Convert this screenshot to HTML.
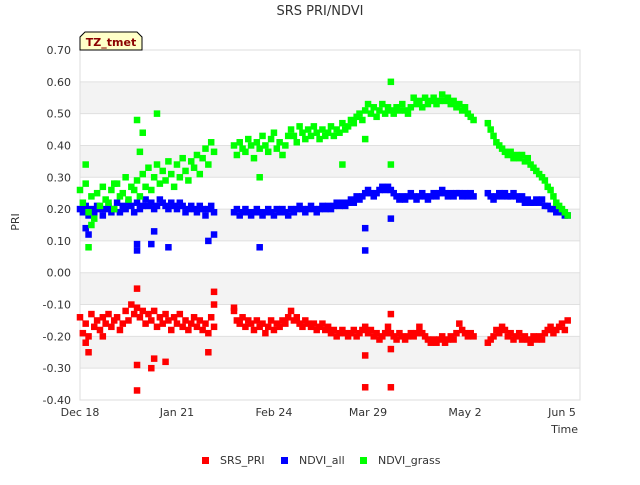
<!DOCTYPE html>
<html><head><meta charset="utf-8"><style>
body{margin:0;background:#fff;font-family:"Liberation Sans","DejaVu Sans",sans-serif}
svg text{font-family:"DejaVu Sans","Liberation Sans",sans-serif}
</style></head><body>
<svg id="chart" width="640" height="480" xmlns="http://www.w3.org/2000/svg">
<rect width="640" height="480" fill="#fff"/>
<g id="bands"></g>
<g id="grid"></g>
<rect x="80" y="50" width="500" height="350" fill="none" stroke="#ddd"/>
<g id="yticks"></g><g id="xticks"></g>
<g id="marks"></g>
<text x="320" y="15" text-anchor="middle" font-size="13" fill="#333">SRS PRI/NDVI</text>
<text x="19" y="222" text-anchor="middle" font-size="11" fill="#333" transform="rotate(-90 19 222)">PRI</text>
<text x="578" y="433" text-anchor="end" font-size="11" fill="#333">Time</text>
<g>
<path d="M80,50 L80,37 L85,32 L137,32 L142,37 L142,50 Z" fill="#ffffc8" stroke="#000"/>
<text x="111" y="46" text-anchor="middle" font-size="11" font-weight="bold" fill="#8b0000">TZ_tmet</text>
</g>
<g>
<rect x="202" y="457" width="7" height="7" fill="#f00"/>
<text x="220" y="464" font-size="11" fill="#333">SRS_PRI</text>
<rect x="281" y="457" width="7" height="7" fill="#00f"/>
<text x="299" y="464" font-size="11" fill="#333">NDVI_all</text>
<rect x="360" y="457" width="7" height="7" fill="#0f0"/>
<text x="378" y="464" font-size="11" fill="#333">NDVI_grass</text>
</g>
</svg>
<script>
const yTicks=[0.7,0.6,0.5,0.4,0.3,0.2,0.1,0,-0.1,-0.2,-0.3,-0.4];
const yTickLabels=["0.70","0.60","0.50","0.40","0.30","0.20","0.10","0.00","-0.10","-0.20","-0.30","-0.40"];
const xTickDays=[0,34,68,101,135,169];
const xTickLabels=["Dec 18","Jan 21","Feb 24","Mar 29","May 2","Jun 5"];
const segStarts=[0,54,143];
const grassSeg1=[0.26,0.22,0.28,0.19,0.24,0.17,0.25,0.21,0.27,0.23,0.22,0.26,0.20,0.28,0.24,0.25,0.30,0.23,0.27,0.26,0.29,0.24,0.31,0.27,0.33,0.26,0.30,0.34,0.28,0.32,0.29,0.35,0.31,0.27,0.34,0.30,0.36,0.32,0.29,0.35,0.33,0.37,0.31,0.36,0.39,0.34,0.41,0.38];
const grassSeg2=[0.40,0.37,0.41,0.39,0.38,0.42,0.40,0.36,0.41,0.39,0.43,0.40,0.38,0.42,0.44,0.39,0.41,0.37,0.40,0.43,0.45,0.43,0.41,0.46,0.44,0.42,0.45,0.43,0.46,0.44,0.42,0.45,0.43,0.44,0.46,0.43,0.45,0.44,0.47,0.45,0.46,0.48,0.47,0.49,0.50,0.48,0.51,0.53,0.50,0.52,0.49,0.51,0.53,0.50,0.52,0.51,0.50,0.52,0.51,0.53,0.51,0.50,0.52,0.55,0.53,0.54,0.52,0.55,0.53,0.54,0.55,0.53,0.54,0.56,0.54,0.55,0.53,0.54,0.52,0.53,0.51,0.52,0.50,0.49,0.48];
const grassSeg3=[0.47,0.45,0.43,0.41,0.40,0.39,0.38,0.37,0.38,0.36,0.37,0.36,0.37,0.35,0.36,0.34,0.33,0.32,0.31,0.30,0.29,0.27,0.26,0.24,0.22,0.21,0.20,0.19,0.18];
const allSeg1=[0.20,0.19,0.21,0.18,0.20,0.19,0.21,0.20,0.18,0.20,0.21,0.19,0.20,0.22,0.19,0.21,0.20,0.22,0.21,0.19,0.22,0.20,0.21,0.23,0.21,0.22,0.20,0.21,0.23,0.22,0.21,0.20,0.22,0.21,0.20,0.22,0.21,0.19,0.20,0.21,0.20,0.19,0.21,0.20,0.18,0.20,0.21,0.19];
const allSeg2=[0.19,0.20,0.18,0.19,0.20,0.19,0.18,0.19,0.20,0.19,0.18,0.19,0.20,0.19,0.18,0.20,0.19,0.20,0.19,0.18,0.20,0.19,0.20,0.21,0.20,0.19,0.20,0.21,0.20,0.19,0.20,0.21,0.20,0.21,0.20,0.21,0.22,0.21,0.22,0.21,0.22,0.23,0.22,0.24,0.23,0.24,0.25,0.26,0.25,0.24,0.25,0.26,0.27,0.26,0.27,0.26,0.25,0.24,0.23,0.24,0.23,0.24,0.25,0.24,0.23,0.24,0.25,0.24,0.23,0.24,0.25,0.24,0.25,0.26,0.25,0.24,0.25,0.24,0.25,0.25,0.24,0.25,0.24,0.25,0.24];
const allSeg3=[0.25,0.24,0.23,0.24,0.25,0.24,0.25,0.24,0.24,0.25,0.24,0.23,0.24,0.22,0.23,0.22,0.22,0.23,0.22,0.23,0.21,0.21,0.20,0.20,0.19,0.20,0.19,0.18,0.18];
const priSeg1=[-0.14,-0.19,-0.16,-0.20,-0.13,-0.17,-0.15,-0.18,-0.14,-0.16,-0.13,-0.17,-0.15,-0.14,-0.18,-0.16,-0.12,-0.15,-0.10,-0.13,-0.11,-0.14,-0.12,-0.16,-0.13,-0.15,-0.12,-0.17,-0.14,-0.16,-0.13,-0.15,-0.18,-0.14,-0.16,-0.13,-0.17,-0.15,-0.18,-0.16,-0.14,-0.17,-0.15,-0.18,-0.16,-0.19,-0.14,-0.17];
const priSeg2=[-0.12,-0.15,-0.16,-0.14,-0.17,-0.15,-0.16,-0.18,-0.15,-0.17,-0.16,-0.19,-0.17,-0.15,-0.18,-0.16,-0.17,-0.15,-0.16,-0.14,-0.12,-0.15,-0.14,-0.16,-0.17,-0.15,-0.16,-0.17,-0.16,-0.18,-0.17,-0.16,-0.18,-0.17,-0.19,-0.18,-0.20,-0.19,-0.18,-0.19,-0.20,-0.19,-0.18,-0.20,-0.19,-0.18,-0.17,-0.19,-0.18,-0.20,-0.19,-0.21,-0.20,-0.19,-0.17,-0.19,-0.20,-0.21,-0.19,-0.20,-0.21,-0.20,-0.19,-0.20,-0.19,-0.17,-0.19,-0.20,-0.21,-0.22,-0.21,-0.22,-0.21,-0.20,-0.22,-0.21,-0.20,-0.21,-0.19,-0.16,-0.18,-0.19,-0.20,-0.19,-0.20];
const priSeg3=[-0.22,-0.21,-0.20,-0.18,-0.19,-0.17,-0.18,-0.20,-0.19,-0.21,-0.20,-0.19,-0.21,-0.20,-0.21,-0.22,-0.20,-0.21,-0.20,-0.21,-0.19,-0.18,-0.17,-0.19,-0.18,-0.17,-0.16,-0.18,-0.15];
const priOutDays=[2,3,8,20,20,20,25,26,30,45,47,47,100,100,109,109,109,54];
const priOutVals=[-0.22,-0.25,-0.20,-0.05,-0.29,-0.37,-0.30,-0.27,-0.28,-0.25,-0.06,-0.10,-0.36,-0.26,-0.36,-0.24,-0.13,-0.11];
const allOutDays=[2,20,20,25,31,26,45,47,63,100,100,109,3];
const allOutVals=[0.14,0.09,0.07,0.09,0.08,0.13,0.10,0.12,0.08,0.07,0.14,0.17,0.12];
const grassOutDays=[20,22,27,3,12,63,92,109,109,100,2,21,4];
const grassOutVals=[0.48,0.44,0.50,0.08,0.28,0.30,0.34,0.34,0.60,0.42,0.34,0.38,0.15];

const NS="http://www.w3.org/2000/svg";
const X0=80,PXD=2.852,Y0=50,H=350,VMAX=0.7,VMIN=-0.4,SQ=6.5;
function xs(d){return X0+d*PXD;}
function ys(v){return Y0+(VMAX-v)/(VMAX-VMIN)*H;}
function mk(tag,attrs,parent){const e=document.createElementNS(NS,tag);for(const k in attrs)e.setAttribute(k,attrs[k]);document.getElementById(parent).appendChild(e);return e;}
const bandTops=[0.6,0.4,0.2,0.0,-0.2];
bandTops.forEach(t=>{const r=mk('rect',{x:80,y:ys(t),width:500,height:ys(t-0.1)-ys(t),fill:'#f3f3f3'},'bands');

});
yTicks.forEach((v,i)=>{const l=mk('line',{x1:80,x2:580,y1:ys(v),y2:ys(v),stroke:'#e0e0e0'},'grid');


const t=mk('text',{x:71,y:ys(v)+4,'text-anchor':'end','font-size':11,fill:'#333'},'yticks');t.textContent=yTickLabels[i];

});
xTickDays.forEach((d,i)=>{const t=mk('text',{x:xs(d),y:416,'text-anchor':'middle','font-size':11,fill:'#333'},'xticks');t.textContent=xTickLabels[i];

});
function pt(d,v,c,name){const r=mk('rect',{x:xs(d)-SQ/2,y:ys(v)-SQ/2,width:SQ,height:SQ,fill:c},'marks');

}
function series(segs,outD,outV,c,name){segs.forEach((s,si)=>s.forEach((v,i)=>pt(segStarts[si]+i,v,c,name)));outD.forEach((d,i)=>pt(d,outV[i],c,name));}
series([priSeg1,priSeg2,priSeg3],priOutDays,priOutVals,'#f00','srs-pri-point');
series([allSeg1,allSeg2,allSeg3],allOutDays,allOutVals,'#00f','ndvi-all-point');
series([grassSeg1,grassSeg2,grassSeg3],grassOutDays,grassOutVals,'#0f0','ndvi-grass-point');
</script>
</body></html>
